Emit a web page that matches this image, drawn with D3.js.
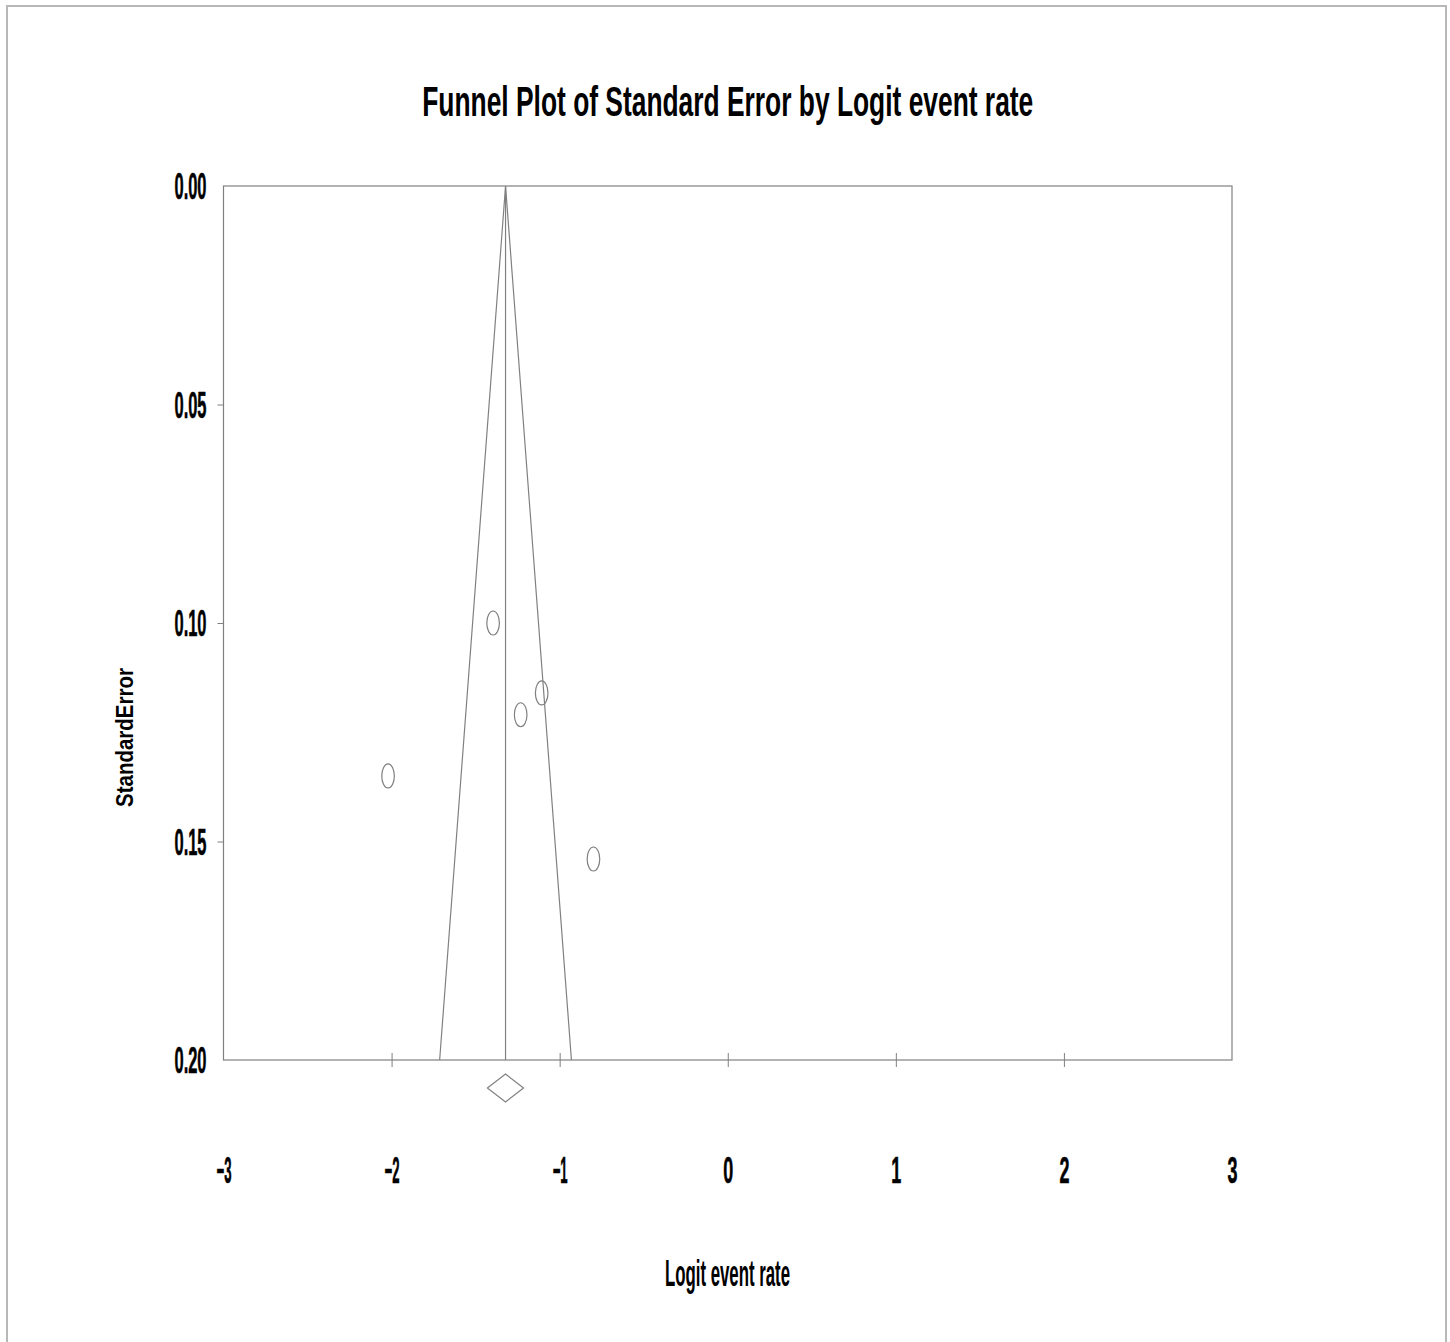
<!DOCTYPE html>
<html>
<head>
<meta charset="utf-8">
<script src="https://cdn.jsdelivr.net/npm/d3@7"></script>
<style>
  body { margin: 0; background: #fff; }
  text { font-family: "Liberation Sans", Arial, sans-serif; font-weight: bold; fill: #000; }
</style>
</head>
<body>
<div id="chart"></div>
<script>
// studies: logit event rate and its standard error
const logitRates = [-1.396, -1.107, -1.232, -2.021, -0.799];
const standardErrors = [0.100, 0.116, 0.121, 0.135, 0.154];

// pooled estimate and its confidence interval (diamond)
const summaryEstimate = -1.322;
const summaryCI = [-1.430, -1.215];

const xTicks = [-3, -2, -1, 0, 1, 2, 3];
const yTicks = [0.00, 0.05, 0.10, 0.15, 0.20];

const width = 1450, height = 1342;
const margin = { left: 223.5, right: 218, top: 186, bottom: 282 };

const svg = d3.select("#chart")
  .append("svg")
    .attr("width", width)
    .attr("height", height);

// outer frame of the picture
svg.append("rect")
    .attr("x", 7).attr("y", 6)
    .attr("width", 1439).attr("height", 1350)
    .attr("fill", "none")
    .attr("stroke", "#b8b8b8")
    .attr("stroke-width", 2);

const x = d3.scaleLinear()
    .domain([-3, 3])
    .range([margin.left, width - margin.right]);

const y = d3.scaleLinear()
    .domain([0, 0.2])
    .range([margin.top, height - margin.bottom]);

const lineColor = "#808080";

// plot box
svg.append("rect")
    .attr("x", x(-3)).attr("y", y(0))
    .attr("width", x(3) - x(-3)).attr("height", y(0.2) - y(0))
    .attr("fill", "none")
    .attr("stroke", lineColor)
    .attr("stroke-width", 1.2);

// title
svg.append("text")
    .attr("x", (x(-3) + x(3)) / 2)
    .attr("y", 116)
    .attr("text-anchor", "middle")
    .attr("font-size", 43)
    .attr("textLength", 611)
    .attr("lengthAdjust", "spacingAndGlyphs")
    .text("Funnel Plot of Standard Error by Logit event rate");

const labelStyle = sel => sel
    .style("font-family", "'Liberation Sans', Arial, sans-serif")
    .style("font-weight", "bold")
    .attr("fill", "#000")
    .attr("stroke", "#000")
    .attr("stroke-width", 0.6)
    .attr("font-size", 36)
    .attr("lengthAdjust", "spacingAndGlyphs");

// y axis
const yAxis = svg.append("g")
    .attr("transform", `translate(${x(-3)},0)`)
    .call(d3.axisLeft(y).tickValues(yTicks).tickFormat(d3.format(".2f")).tickSize(6).tickPadding(11));
yAxis.select(".domain").remove();
yAxis.selectAll(".tick line")
    .attr("stroke", lineColor)
    .attr("display", d => (d === 0 || d === 0.2) ? "none" : null);
yAxis.selectAll(".tick text")
    .call(labelStyle)
    .attr("dy", "0.36em")
    .attr("textLength", 32);

// x axis
const xAxis = svg.append("g")
    .attr("transform", `translate(0,${y(0.2)})`)
    .call(d3.axisBottom(x).tickValues(xTicks).tickFormat(d3.format("d")).tickSize(7));
xAxis.select(".domain").remove();
xAxis.selectAll(".tick line")
    .attr("y1", -7).attr("y2", 7)
    .attr("stroke", lineColor)
    .attr("display", d => (d === -3 || d === 3) ? "none" : null);
xAxis.selectAll(".tick text")
    .call(labelStyle)
    .attr("y", 123)
    .attr("dy", 0)
    .attr("textLength", d => d < 0 ? 15 : 10);

// axis titles
svg.append("text")
    .attr("x", 727.5)
    .attr("y", 1286)
    .attr("text-anchor", "middle")
    .attr("font-size", 36)
    .attr("textLength", 125)
    .attr("lengthAdjust", "spacingAndGlyphs")
    .text("Logit event rate");

svg.append("text")
    .attr("transform", "translate(133,737.5) rotate(-90)")
    .attr("text-anchor", "middle")
    .attr("font-size", 23)
    .attr("textLength", 139)
    .attr("lengthAdjust", "spacingAndGlyphs")
    .text("StandardError");

// funnel: pooled estimate +/- 1.96 * SE
const funnel = [
  [summaryEstimate - 1.96 * 0.2, 0.2],
  [summaryEstimate, 0],
  [summaryEstimate + 1.96 * 0.2, 0.2]
];
svg.append("path")
    .attr("d", d3.line().x(d => x(d[0])).y(d => y(d[1]))(funnel))
    .attr("fill", "none")
    .attr("stroke", lineColor)
    .attr("stroke-width", 1.2);

svg.append("line")
    .attr("x1", x(summaryEstimate)).attr("x2", x(summaryEstimate))
    .attr("y1", y(0)).attr("y2", y(0.2))
    .attr("stroke", lineColor)
    .attr("stroke-width", 1.2);

// studies
svg.append("g")
  .selectAll("ellipse")
  .data(logitRates.map((v, i) => ({ x: v, se: standardErrors[i] })))
  .join("ellipse")
    .attr("cx", d => x(d.x))
    .attr("cy", d => y(d.se))
    .attr("rx", 6.3)
    .attr("ry", 12)
    .attr("fill", "none")
    .attr("stroke", lineColor)
    .attr("stroke-width", 1.2);

// summary diamond under the axis
const dy = y(0.2) + 28;
const diamond = [
  [x(summaryCI[0]), dy],
  [x(summaryEstimate), dy - 14],
  [x(summaryCI[1]), dy],
  [x(summaryEstimate), dy + 14]
];
svg.append("path")
    .attr("d", d3.line()(diamond) + "Z")
    .attr("fill", "none")
    .attr("stroke", lineColor)
    .attr("stroke-width", 1.2);
</script>
</body>
</html>
